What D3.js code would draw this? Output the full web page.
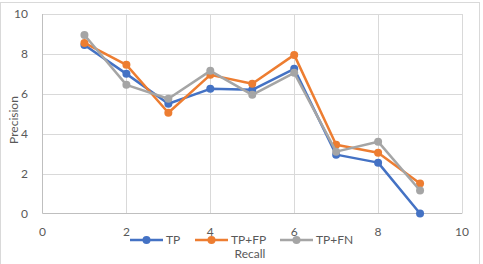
<!DOCTYPE html>
<html><head><meta charset="utf-8">
<script src="https://cdn.jsdelivr.net/npm/d3@7"></script>
<style>html,body{margin:0;padding:0;background:#fff;overflow:hidden}</style>
</head><body>
<svg id="c" width="483" height="264"></svg>
<script>
const recall = [1,2,3,4,5,6,7,8,9];
const tp   = [8.45,7.0,5.5,6.25,6.2,7.25,2.95,2.55,0.0];
const tpfp = [8.55,7.45,5.05,6.95,6.5,7.95,3.45,3.05,1.5];
const tpfn = [8.95,6.45,5.75,7.15,5.95,7.05,3.1,3.6,1.15];
const seriesNames = ["TP","TP+FP","TP+FN"];
const xTicks = [0,2,4,6,8,10];
const yTicks = [0,2,4,6,8,10];
const colors = ["#4472C4","#ED7D31","#A5A5A5"];

const svg = d3.select("#c");
const font = "Lato, 'Liberation Sans', sans-serif";
const txt = "#595959";
svg.append("rect").attr("x",0.5).attr("y",2.5).attr("width",479).attr("height",262)
  .attr("fill","#fff").attr("stroke","#d9d9d9");

const x = d3.scaleLinear().domain([0,10]).range([42.5,462]);
const y = d3.scaleLinear().domain([0,10]).range([213.5,14]);

const g = svg.append("g");
// gridlines
g.selectAll(".hg").data(yTicks.slice(1)).join("line")
  .attr("x1",x(0)).attr("x2",x(10)).attr("y1",d=>Math.round(y(d))+0.5).attr("y2",d=>Math.round(y(d))+0.5)
  .attr("stroke","#d9d9d9").attr("stroke-width",1);
g.selectAll(".vg").data(xTicks.slice(1)).join("line")
  .attr("y1",y(0)).attr("y2",y(10)).attr("x1",d=>Math.round(x(d))+0.5).attr("x2",d=>Math.round(x(d))+0.5)
  .attr("stroke","#d9d9d9").attr("stroke-width",1);
// axes lines
g.append("line").attr("x1",x(0)).attr("x2",x(10)).attr("y1",y(0)).attr("y2",y(0)).attr("stroke","#bfbfbf");
g.append("line").attr("x1",x(0)).attr("x2",x(0)).attr("y1",y(0)).attr("y2",y(10)).attr("stroke","#bfbfbf");

// tick labels
g.selectAll(".yl").data(yTicks).join("text")
  .attr("x",28).attr("y",d=>y(d)+4).attr("text-anchor","end")
  .attr("font-family",font).attr("font-size",12).attr("fill",txt).text(d=>d);
g.selectAll(".xl").data(xTicks).join("text")
  .attr("x",d=>x(d)).attr("y",236).attr("text-anchor","middle")
  .attr("font-family",font).attr("font-size",12).attr("fill",txt).text(d=>d);

svg.append("text").attr("transform","translate(18,120) rotate(-90)").attr("text-anchor","middle")
  .attr("font-family",font).attr("font-size",12).attr("fill",txt).text("Precision");

const data = [tp,tpfp,tpfn];
const line = d3.line().x((d,i)=>x(recall[i])).y(d=>y(d));
data.forEach((vals,k)=>{
  const s = svg.append("g");
  s.append("path").attr("d",line(vals)).attr("fill","none").attr("stroke",colors[k])
    .attr("stroke-width",2.5).attr("stroke-linejoin","round");
  s.selectAll("circle").data(vals).join("circle")
    .attr("cx",(d,i)=>x(recall[i])).attr("cy",d=>y(d)).attr("r",4).attr("fill",colors[k]);
});

// legend
const legX = [130,195,280];
const lg = svg.append("g");
seriesNames.forEach((n,k)=>{
  lg.append("line").attr("x1",legX[k]).attr("x2",legX[k]+33).attr("y1",240).attr("y2",240)
    .attr("stroke",colors[k]).attr("stroke-width",2.5);
  lg.append("circle").attr("cx",legX[k]+16.5).attr("cy",240).attr("r",4).attr("fill",colors[k]);
  lg.append("text").attr("x",legX[k]+36).attr("y",244).attr("font-family",font).attr("font-size",12)
    .attr("fill",txt).text(n);
});
svg.append("text").attr("x",250).attr("y",258).attr("text-anchor","middle")
  .attr("font-family",font).attr("font-size",12).attr("fill",txt).text("Recall");
</script>
</body></html>
